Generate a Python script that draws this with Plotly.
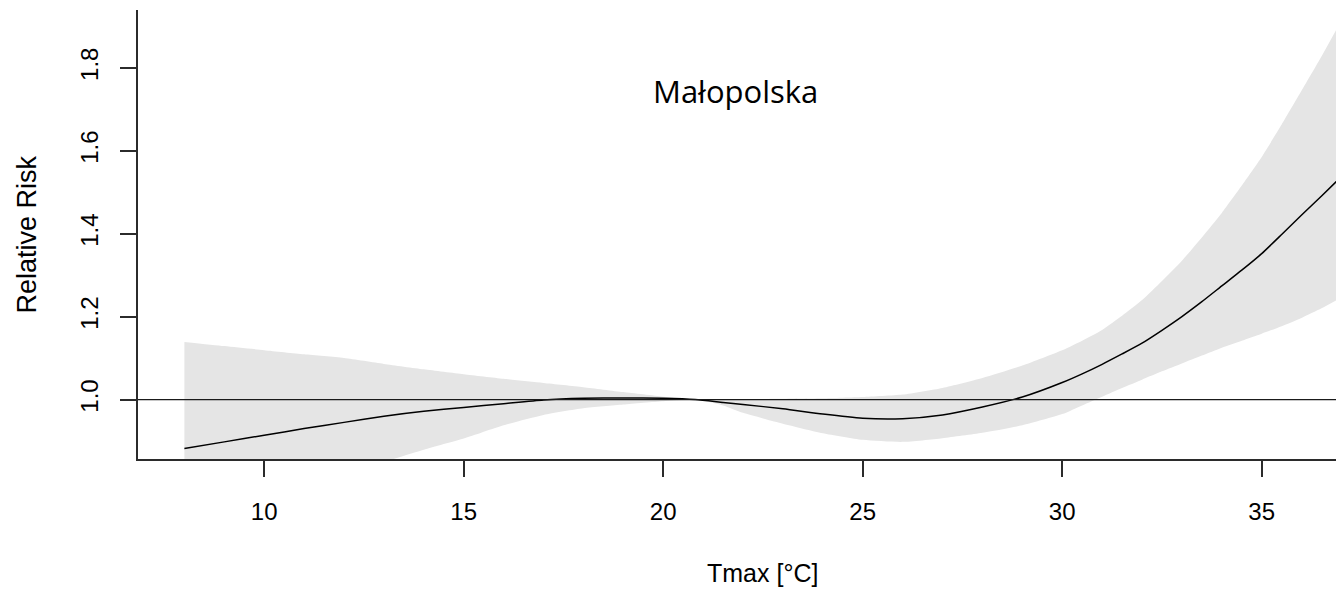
import plotly.graph_objects as go

# Temperature grid (°C) and the fitted relative-risk curve with its confidence band
tmax = [8, 9, 10, 11, 12, 13, 14, 15, 16, 17, 18, 19, 20, 20.8, 21.5, 22, 23, 24,
        25, 26, 27, 28, 29, 30, 30.5, 31, 31.5, 32, 32.5, 33, 33.5, 34, 34.5, 35,
        35.5, 36, 36.5, 37]
rr = [0.882, 0.898, 0.914, 0.930, 0.945, 0.960, 0.972, 0.981, 0.990, 0.999, 1.003,
      1.004, 1.003, 1.000, 0.993, 0.988, 0.978, 0.965, 0.955, 0.954, 0.963, 0.982,
      1.006, 1.041, 1.062, 1.085, 1.110, 1.136, 1.167, 1.200, 1.236, 1.274, 1.312,
      1.352, 1.398, 1.445, 1.491, 1.538]
rr_high = [1.139, 1.129, 1.119, 1.109, 1.100, 1.086, 1.073, 1.061, 1.050, 1.040, 1.030,
           1.018, 1.007, 1.000, 1.000, 1.001, 1.002, 1.003, 1.006, 1.012, 1.028, 1.052,
           1.082, 1.119, 1.142, 1.168, 1.202, 1.240, 1.286, 1.335, 1.391, 1.450, 1.516,
           1.585, 1.663, 1.745, 1.828, 1.915]
rr_low = [0.683, 0.714, 0.747, 0.780, 0.812, 0.849, 0.879, 0.906, 0.938, 0.963, 0.979,
          0.988, 0.996, 1.000, 0.986, 0.968, 0.942, 0.919, 0.903, 0.898, 0.907, 0.920,
          0.938, 0.965, 0.986, 1.007, 1.028, 1.048, 1.068, 1.087, 1.106, 1.125, 1.142,
          1.159, 1.177, 1.197, 1.220, 1.246]

x_ticks = [10, 15, 20, 25, 30, 35]
y_ticks = [1.0, 1.2, 1.4, 1.6, 1.8]
y_tick_text = ["1.0", "1.2", "1.4", "1.6", "1.8"]
region_name = "Małopolska"
x_label = "Tmax [°C]"
y_label = "Relative Risk"

AXIS_FONT = "Liberation Sans, Arial, sans-serif"
AXIS_COLOR = "#2b2b2b"
SMOOTH = dict(shape="spline", smoothing=0.6)

fig = go.Figure()

# confidence band
fig.add_trace(go.Scatter(x=tmax, y=rr_low, mode="lines", line=dict(width=0, **SMOOTH),
                         hoverinfo="skip", showlegend=False))
fig.add_trace(go.Scatter(x=tmax, y=rr_high, mode="lines", line=dict(width=0, **SMOOTH),
                         fill="tonexty", fillcolor="#e5e5e5",
                         hoverinfo="skip", showlegend=False))
# fitted curve
fig.add_trace(go.Scatter(x=tmax, y=rr, mode="lines",
                         line=dict(color="black", width=1.5, **SMOOTH),
                         showlegend=False))

# reference line at RR = 1
fig.add_hline(y=1.0, line=dict(color="#1a1a1a", width=1.2), layer="above")

fig.update_layout(
    width=1336, height=591,
    margin=dict(l=138, r=0, t=10, b=132),
    paper_bgcolor="white", plot_bgcolor="white",
    showlegend=False,
    xaxis=dict(
        range=[6.837, 36.862],
        tickmode="array", tickvals=x_ticks,
        ticks="outside", ticklen=16, tickwidth=1.5, tickcolor=AXIS_COLOR,
        ticklabelstandoff=14,
        showline=True, linecolor=AXIS_COLOR, linewidth=2,
        showgrid=False, zeroline=False,
        tickfont=dict(family=AXIS_FONT, size=24, color="black"),
    ),
    yaxis=dict(
        range=[0.8567, 1.9394],
        tickmode="array", tickvals=y_ticks, ticktext=y_tick_text,
        tickangle=-90,
        ticks="outside", ticklen=16, tickwidth=1.5, tickcolor=AXIS_COLOR,
        ticklabelstandoff=12,
        showline=True, linecolor=AXIS_COLOR, linewidth=2,
        showgrid=False, zeroline=False,
        tickfont=dict(family=AXIS_FONT, size=24, color="black"),
    ),
    annotations=[
        dict(text=region_name, xref="paper", yref="paper", x=0.499, y=0.82,
             xanchor="center", yanchor="middle", showarrow=False,
             font=dict(family="Open Sans, sans-serif", size=31, color="black")),
        dict(text=x_label, xref="paper", yref="paper", x=0.5217, y=0,
             xanchor="center", yanchor="middle", yshift=-114, showarrow=False,
             font=dict(family=AXIS_FONT, size=25, color="black")),
        dict(text=y_label, xref="paper", yref="paper", x=0, y=0.5,
             xanchor="center", yanchor="middle", xshift=-112, textangle=-90,
             showarrow=False,
             font=dict(family=AXIS_FONT, size=27, color="black")),
    ],
)

fig.write_html("out.html")
